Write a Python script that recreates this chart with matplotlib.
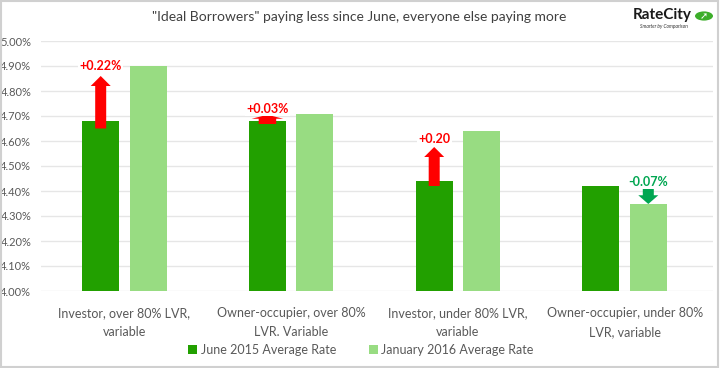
import matplotlib
matplotlib.use("Agg")
import matplotlib.pyplot as plt
from matplotlib.patches import Circle, Rectangle
import numpy as np

plt.rcParams['font.family'] = ['Lato', 'DejaVu Sans']

categories = ["Investor, over 80% LVR,\nvariable",
              "Owner-occupier, over 80%\nLVR. Variable",
              "Investor, under 80% LVR,\nvariable",
              "Owner-occupier, under 80%\nLVR, variable"]
june_2015 = [4.68, 4.68, 4.44, 4.42]
jan_2016 = [4.90, 4.71, 4.64, 4.35]
change_labels = ["+0.22%", "+0.03%", "+0.20", "-0.07%"]
# annotation arrows: start and tip values
arrow_start = [4.65, 4.668, 4.42, 4.41]
arrow_tip = [4.86, 4.705, 4.576, 4.348]
label_y = [4.90, 4.728, 4.607, 4.436]
arrow_on_jan = [False, False, False, True]
yticks = [4.00, 4.10, 4.20, 4.30, 4.40, 4.50, 4.60, 4.70, 4.80, 4.90, 5.00]
title = '"Ideal Borrowers" paying less since June, everyone else paying more'
series_names = ["June 2015 Average Rate", "January 2016 Average Rate"]

DARK = "#22A000"
LIGHT = "#98DC82"
GRAY = "#595959"

fig = plt.figure(figsize=(7.2, 3.68), dpi=100)
ax = fig.add_axes([41 / 720, 1 - 291 / 368, 672 / 720, 250 / 368])

x = np.arange(len(categories))
off = 0.142
w = 0.222
ax.bar(x - off, np.array(june_2015) - 4.0, bottom=4.0, width=w, color=DARK,
       label=series_names[0], zorder=2)
ax.bar(x + off, np.array(jan_2016) - 4.0, bottom=4.0, width=w, color=LIGHT,
       label=series_names[1], zorder=2)

ax.set_ylim(4.0, 5.0)
ax.set_xlim(-0.5, 3.53)
ax.set_yticks(yticks)
ax.set_yticklabels([f"{v:.2f}%" for v in yticks])
ax.yaxis.grid(True, color="#E6E6E6", lw=1, zorder=0)
ax.set_axisbelow(True)
for s in ax.spines.values():
    s.set_visible(False)
ax.tick_params(axis='y', length=0, pad=7, labelsize=8, labelcolor=GRAY)
ax.tick_params(axis='x', length=0, pad=11.5, labelsize=9, labelcolor=GRAY)
ax.set_xticks(x)
ax.set_xticklabels(categories, linespacing=1.75)

# arrows
for i in range(len(categories)):
    xc = x[i] + (off if arrow_on_jan[i] else -off)
    up = arrow_tip[i] > arrow_start[i]
    color = "#FF0000" if up else "#00A651"
    length = arrow_tip[i] - arrow_start[i]
    if i == 1:
        sw, hw, hl = 0.105, 0.19, 0.016
    elif up:
        sw, hw, hl = 0.066, 0.12, 0.04
    else:
        sw, hw, hl = 0.066, 0.12, 0.035
    ax.arrow(xc, arrow_start[i], 0, length, width=sw, head_width=hw,
             head_length=min(hl, abs(length) * 0.9), length_includes_head=True,
             color=color, lw=0, zorder=4)
    ax.text(xc, label_y[i], change_labels[i], ha='center', va='center',
            color=color, fontsize=9, fontweight='bold', zorder=5,
            bbox=dict(boxstyle='square,pad=0.1', fc='white', ec='none'))

fig.text(359 / 720, 1 - 17 / 368, title, ha='center', va='center',
         fontsize=10, color="#404040")

leg = ax.legend(loc='center', ncol=2, frameon=False, fontsize=9,
                handlelength=0.7, handleheight=0.7,
                handletextpad=0.3, columnspacing=2.6)
leg.set_bbox_to_anchor((361 / 720, 1 - 350 / 368), transform=fig.transFigure)
for t in leg.get_texts():
    t.set_color(GRAY)

# logo
fig.text(692 / 720, 1 - 15 / 368, "RateCity", ha='right', va='center',
         fontsize=11, fontweight='bold', color="#1A1A1A")
fig.text(664 / 720, 1 - 26 / 368, "Smarter by Comparison", ha='center', va='center',
         fontsize=3.5, style='italic', color="#333333")
fig.patches.append(Circle((704 / 720, 1 - 16 / 368), 0.0125, transform=fig.transFigure,
                          fc="#3DAE2B", ec='none'))
fig.text(704 / 720, 1 - 16 / 368, "➚", ha='center', va='center', fontsize=7,
         color='white', family=['DejaVu Sans'])

# outer border
fig.patches.append(Rectangle((0.0015, 0.003), 0.996, 0.994, transform=fig.transFigure,
                             fill=False, ec="#D0D0D0", lw=1.5))

fig.savefig("out.png", dpi=100)
